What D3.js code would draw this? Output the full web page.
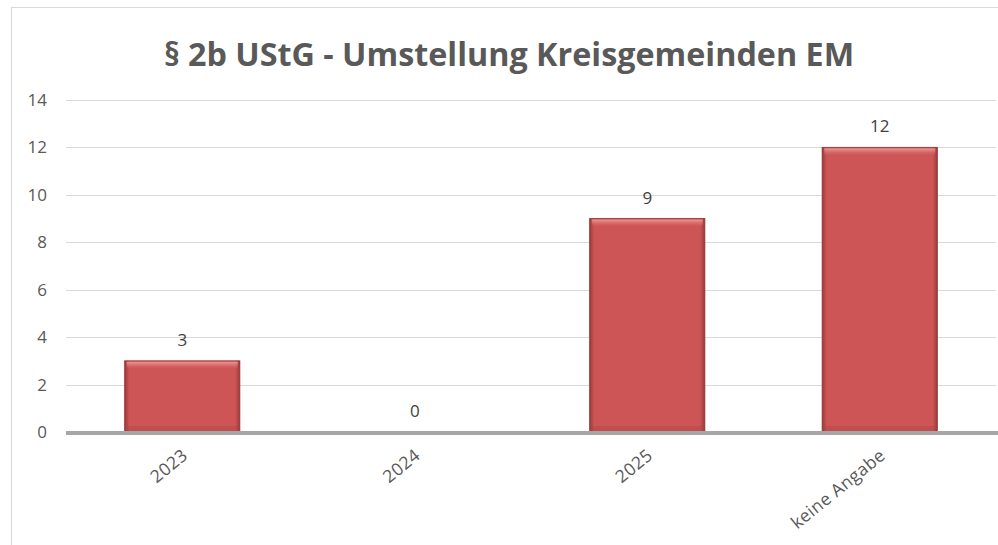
<!DOCTYPE html>
<html>
<head>
<meta charset="utf-8">
<script src="https://cdn.jsdelivr.net/npm/d3@7"></script>
<style>
    body { margin: 0; background: #fff; }
    text { font-family: "Open Sans", sans-serif; }
</style>
</head>
<body>
<div id="chart"></div>
<script>
// data
var categories = ["2023", "2024", "2025", "keine Angabe"];
var values = [3, 0, 9, 12];
var yTicks = [0, 2, 4, 6, 8, 10, 12, 14];
var chartTitle = "§ 2b UStG - Umstellung Kreisgemeinden EM";

const width = 998, height = 545;
const margin = { top: 100, left: 66, bottom: 113, right: 2 }
const config = {
    plotWidth: width - (margin.left + margin.right),
    plotHeight: height - (margin.top + margin.bottom)
}

var svg = d3.select('#chart').append('svg')
    .attr('width', width)
    .attr('height', height)

// outer frame
svg.append('rect')
    .attr('x', 11.5).attr('y', 7.5)
    .attr('width', width).attr('height', height)
    .attr('fill', '#fff')
    .attr('stroke', '#d9d9d9')

// bevel gradients
var defs = svg.append('defs')
var hg = defs.append('linearGradient').attr('id', 'edgeH').attr('x1', 0).attr('x2', 1).attr('y1', 0).attr('y2', 0)
hg.append('stop').attr('offset', '0%').attr('stop-color', '#8e3434').attr('stop-opacity', 0.8)
hg.append('stop').attr('offset', '4%').attr('stop-color', '#8e3434').attr('stop-opacity', 0)
hg.append('stop').attr('offset', '96%').attr('stop-color', '#8e3434').attr('stop-opacity', 0)
hg.append('stop').attr('offset', '100%').attr('stop-color', '#8e3434').attr('stop-opacity', 0.8)

var topG = defs.append('linearGradient').attr('id', 'topHi').attr('x1', 0).attr('x2', 0).attr('y1', 0).attr('y2', 1)
topG.append('stop').attr('offset', '0%').attr('stop-color', '#f0a0a0').attr('stop-opacity', 0.9)
topG.append('stop').attr('offset', '100%').attr('stop-color', '#e07070').attr('stop-opacity', 0)

var g = svg.append('g')
    .attr('transform', 'translate(' + margin.left + ',' + margin.top + ')')

var yScale = d3.scaleLinear().domain([0, 14]).range([config.plotHeight, 0])
var xScale = d3.scaleBand().domain(categories).range([0, config.plotWidth])
    .paddingInner(0.505).paddingOuter(0.2525)

// grid lines
g.append('g').selectAll('line')
    .data(yTicks.filter(t => t > 0))
    .enter().append('line')
    .attr('x1', 0).attr('x2', config.plotWidth)
    .attr('y1', d => Math.round(yScale(d)) + 0.5)
    .attr('y2', d => Math.round(yScale(d)) + 0.5)
    .attr('stroke', '#d9d9d9')
    .attr('stroke-width', 1)

// y axis labels
g.append('g').selectAll('text')
    .data(yTicks)
    .enter().append('text')
    .attr('x', -19)
    .attr('y', d => yScale(d))
    .attr('dy', '0.35em')
    .attr('text-anchor', 'end')
    .attr('font-size', 17)
    .attr('fill', '#595959')
    .text(d => d)

// bars
var bars = g.append('g').selectAll('g')
    .data(values)
    .enter().append('g')
    .attr('transform', (d, i) => 'translate(' + xScale(categories[i]) + ',0)')

bars.append('rect')
    .attr('width', xScale.bandwidth())
    .attr('y', d => yScale(d))
    .attr('height', d => yScale(0) - yScale(d))
    .attr('fill', '#cd5555')
    .attr('stroke', '#a23f3f')
    .attr('stroke-width', d => d > 0 ? 1 : 0)

bars.append('rect')
    .attr('width', xScale.bandwidth())
    .attr('y', d => yScale(d))
    .attr('height', d => yScale(0) - yScale(d))
    .attr('fill', 'url(#edgeH)')

bars.filter(d => d > 0).append('rect')
    .attr('x', 2)
    .attr('width', xScale.bandwidth() - 4)
    .attr('y', d => yScale(d) + 1)
    .attr('height', 7)
    .attr('fill', 'url(#topHi)')

bars.filter(d => d > 0).append('rect')
    .attr('x', 2)
    .attr('width', xScale.bandwidth() - 4)
    .attr('y', yScale(0) - 6)
    .attr('height', 6)
    .attr('fill', '#a84343')
    .attr('opacity', 0.35)

// value labels
bars.append('text')
    .attr('x', xScale.bandwidth() / 2)
    .attr('y', d => yScale(d) - 15)
    .attr('text-anchor', 'middle')
    .attr('font-size', 17)
    .attr('fill', '#404040')
    .text(d => d)

// x axis line
g.append('line')
    .attr('x1', 0).attr('x2', config.plotWidth + margin.right)
    .attr('y1', yScale(0) + 1).attr('y2', yScale(0) + 1)
    .attr('stroke', '#a6a6a6')
    .attr('stroke-width', 4)

// x axis labels
g.append('g').selectAll('text')
    .data(categories)
    .enter().append('text')
    .attr('transform', d => 'translate(' + (xScale(d) + xScale.bandwidth() / 2 - 1) + ',' + (yScale(0) + 16) + ') rotate(-39)')
    .attr('text-anchor', 'end')
    .attr('dy', '0.7em')
    .attr('font-size', 17.5)
    .attr('letter-spacing', 0.4)
    .attr('fill', '#595959')
    .text(d => d)

// title
svg.append('text')
    .attr('x', 509)
    .attr('y', 66)
    .attr('text-anchor', 'middle')
    .attr('font-size', 32.3)
    .attr('font-weight', 'bold')
    .attr('fill', '#595959')
    .text(chartTitle)
</script>
</body>
</html>
